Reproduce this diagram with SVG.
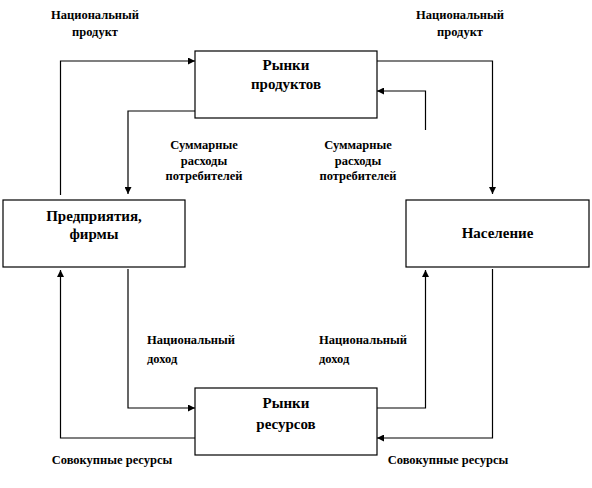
<svg xmlns="http://www.w3.org/2000/svg" width="592" height="488" viewBox="0 0 592 488">
<defs>
<marker id="arr" viewBox="0 0 10 10" refX="10" refY="5" markerWidth="7" markerHeight="7" markerUnits="userSpaceOnUse" orient="auto">
<path d="M0,0 L10,5 L0,10 z" fill="#000"/>
</marker>
</defs>
<style>
.box{fill:#fff;stroke:#000;stroke-width:1.2}
.lbl{font-family:"Liberation Serif","Times New Roman",serif;font-weight:bold;font-size:15px;fill:#000;text-anchor:middle}
.sm{font-family:"Liberation Serif","Times New Roman",serif;font-weight:bold;font-size:12.5px;fill:#000}
.c{text-anchor:middle}
.ln{fill:none;stroke:#000;stroke-width:1.2}
.ar{marker-end:url(#arr)}
</style>
<rect width="592" height="488" fill="#fff"/>
<g id="connectors">
<path class="ln ar" d="M60.5,195 V61 H195"/>
<path class="ln ar" d="M195,111 H128 V194"/>
<path class="ln ar" d="M377,61 H492.5 V194"/>
<path class="ln ar" d="M425.5,130 V91 H377"/>
<path class="ln ar" d="M128,269 V408 H195"/>
<path class="ln ar" d="M195,438 H60.5 V270"/>
<path class="ln ar" d="M377,408 H425.5 V270"/>
<path class="ln ar" d="M492.5,269 V438 H377"/>
</g>
<g id="node-products">
<rect class="box" x="195" y="51" width="182" height="67"/>
<text class="lbl" x="286" y="70">Рынки</text>
<text class="lbl" x="286" y="89">продуктов</text>
</g>
<g id="node-firms">
<rect class="box" x="3" y="200" width="182" height="67"/>
<text class="lbl" x="94" y="221">Предприятия,</text>
<text class="lbl" x="94" y="239">фирмы</text>
</g>
<g id="node-population">
<rect class="box" x="406" y="200" width="183" height="67"/>
<text class="lbl" x="497.5" y="238">Население</text>
</g>
<g id="node-resources">
<rect class="box" x="195" y="388" width="182" height="67"/>
<text class="lbl" x="286" y="408">Рынки</text>
<text class="lbl" x="286" y="429">ресурсов</text>
</g>
<g id="labels">
<text class="sm c" x="95" y="19">Национальный</text>
<text class="sm c" x="95" y="36">продукт</text>
<text class="sm c" x="460" y="19">Национальный</text>
<text class="sm c" x="460" y="36">продукт</text>
<text class="sm c" x="204" y="149">Суммарные</text>
<text class="sm c" x="204" y="165">расходы</text>
<text class="sm c" x="204" y="180">потребителей</text>
<text class="sm c" x="358" y="149">Суммарные</text>
<text class="sm c" x="358" y="165">расходы</text>
<text class="sm c" x="358" y="180">потребителей</text>
<text class="sm" x="147" y="344">Национальный</text>
<text class="sm" x="147" y="363">доход</text>
<text class="sm" x="319" y="344">Национальный</text>
<text class="sm" x="319" y="363">доход</text>
<text class="sm c" x="112" y="464">Совокупные ресурсы</text>
<text class="sm c" x="448" y="464">Совокупные ресурсы</text>
</g>
</svg>
